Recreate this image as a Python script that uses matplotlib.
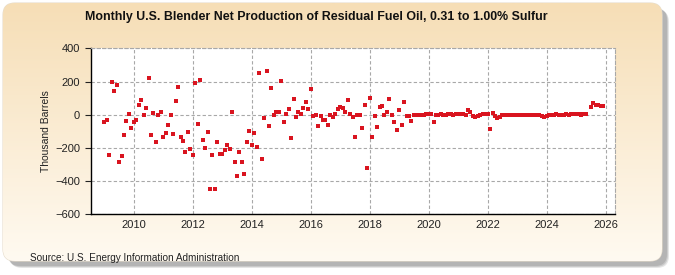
import numpy as np
import matplotlib.pyplot as plt
from matplotlib.patches import FancyBboxPatch

# monthly values, thousand barrels, starting Jan 2009
start_year = 2009
v2009 = [-44, -34, -243, 197, 141, 177, -285, -249, -122, -40, 2, -82]
v2010 = [-46, -32, 58, 86, -2, 40, 219, -122, 8, -167, -4, 14]
v2011 = [-135, -110, -64, -2, -116, 80, 165, -137, -161, -225, -106, -209]
v2012 = [-243, 191, -58, 209, -153, -201, -104, -445, -243, -445, -167, -237]
v2013 = [-237, -215, -183, -207, 14, -285, -369, -225, -285, -357, -165, -100]
v2014 = [-183, -112, -195, 251, -269, -20, 263, -68, 161, -4, 14, 14]
v2015 = [203, -46, 2, 32, -141, 94, -14, 14, 2, 40, 76, 34]
v2016 = [157, -10, -2, -68, -6, -30, -34, -64, -4, -16, 2, 34]
v2017 = [44, 40, 14, 88, 4, -16, -135, -4, -4, -80, 58, -321]
v2018 = [100, -135, -8, -74, 46, 52, -4, 16, 94, -2, -46, -92]
v2019 = [28, -64, 74, -8, -8, -38, -4, -2, -2, -1, 0, 2]
v2020 = [4, 4, -42, 0, -2, 2, 0, 0, 4, 2, 0, 2]
v2021 = [4, 6, 2, 0, 30, 14, -6, -16, -8, 0, 4, 2]
v2022 = [2, -84, 8, -8, -20, -12, -2, 0, 0, 0, 0, 0]
v2023 = [0, 0, 0, 0, 0, 0, 0, 0, 0, -4, -6, -16]
v2024 = [-6, -2, 0, 0, 2, 0, 0, 0, 2, 0, 4, 2]
v2025 = [6, 2, 0, 2, 2, np.nan, 45, 69, 60, 57, 55, 55]

values = np.array(v2009 + v2010 + v2011 + v2012 + v2013 + v2014 + v2015 + v2016 +
                  v2017 + v2018 + v2019 + v2020 + v2021 + v2022 + v2023 + v2024 + v2025,
                  dtype=float)
x = start_year + np.arange(len(values)) / 12.0

title = "Monthly U.S. Blender Net Production of Residual Fuel Oil, 0.31 to 1.00% Sulfur"
ylabel = "Thousand Barrels"
source = "Source: U.S. Energy Information Administration"
xticks = list(range(2010, 2027, 2))
yticks = list(range(-600, 401, 200))

fam = ['Liberation Sans', 'DejaVu Sans']

fig = plt.figure(figsize=(6.75, 2.75), dpi=100)

# background panel with gradient and shadow
bg = fig.add_axes([0, 0, 1, 1], zorder=-10)
bg.set_xlim(0, 675)
bg.set_ylim(275, 0)
bg.axis('off')
for off, a in [(7, 0.25), (6, 0.35), (5, 0.45)]:
    bg.add_patch(FancyBboxPatch((3 + off, 3 + off), 659, 258,
                                boxstyle="round,pad=0,rounding_size=12",
                                fc='#9a9a9a', ec='none', alpha=a))
panel = FancyBboxPatch((3, 3), 659, 258, boxstyle="round,pad=0,rounding_size=12",
                       fc='none', ec='#e6dccb', lw=0.8)
bg.add_patch(panel)
grad = np.linspace(0, 1, 256).reshape(-1, 1)
top = np.array([246, 222, 182]) / 255
bot = np.array([255, 250, 241]) / 255
img = top + (bot - top) * grad[..., None]
im = bg.imshow(img, extent=[3, 662, 261, 3], aspect='auto', zorder=1)
im.set_clip_path(panel)

ax = fig.add_axes([90.5 / 675, 1 - 214.3 / 275, (615 - 90.5) / 675, (214.3 - 48.3) / 275])
ax.set_facecolor('white')
ax.scatter(x, values, marker='s', s=10, color='#d9141f', linewidths=0, zorder=3)

ax.set_xlim(2008.53, 2026.32)
ax.set_ylim(-600, 400)
ax.set_xticks(xticks)
ax.set_yticks(yticks)
ax.grid(True, color='#a8a8a8', linestyle=(0, (3, 2)), linewidth=0.8)
ax.set_axisbelow(True)
for s in ['top', 'right']:
    ax.spines[s].set_linestyle((0, (3, 2)))
    ax.spines[s].set_color('#a8a8a8')
    ax.spines[s].set_linewidth(0.8)
for s in ['left', 'bottom']:
    ax.spines[s].set_color('black')
    ax.spines[s].set_linewidth(1.0)
ax.tick_params(axis='y', length=4, width=0.8, labelsize=8, colors='#222222')
ax.tick_params(axis='x', length=0, labelsize=8, colors='#222222', pad=4)
for lab in ax.get_xticklabels() + ax.get_yticklabels():
    lab.set_family(fam)

ax.set_ylabel(ylabel, family=fam, fontsize=7.5, color='#222222')
ax.yaxis.set_label_coords(-0.075, 0.5)

fig.text(0.468, 1 - 17 / 275, title, ha='center', va='center', family=fam,
         fontsize=8.9, fontweight='bold', color='#111111')
fig.text(30 / 675, 1 - 258 / 275, source, ha='left', va='center', family=fam,
         fontsize=7.2, color='#222222')

fig.savefig("out.png", dpi=100)
